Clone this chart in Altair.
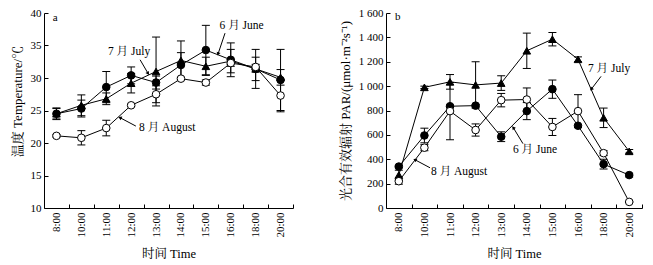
import math
import altair as alt
import pandas as pd

# ---------------- data ----------------
times = ["8:00", "10:00", "11:00", "12:00", "13:00", "14:00", "15:00", "16:00", "18:00", "20:00"]
months = ["June", "July", "August"]

temp_june = [24.5, 25.3, 28.6, 30.4, 29.3, 32.0, 34.3, 32.8, 31.4, 29.7]
temp_june_sd = [0.9, 1.3, 2.4, 1.3, 1.0, 1.9, 3.8, 2.6, 3.0, 4.7]
temp_july = [24.5, 25.8, 26.8, 29.2, 31.0, 32.7, 31.8, 32.6, 31.4, 30.1]
temp_july_sd = [0.8, 1.6, 0.9, 1.5, 5.3, 3.0, 1.4, 1.8, 1.8, 1.2]
temp_aug = [21.1, 20.8, 22.3, 25.8, 27.5, 29.9, 29.3, 32.3, 31.7, 27.3]
temp_aug_sd = [0.2, 1.1, 1.2, 0.2, 1.3, 0.2, 0.4, 0.5, 0.4, 2.5]

par_june = [340, 595, 835, 840, 585, 795, 975, 675, 360, 270]
par_june_sd = [10, 60, 10, 10, 40, 70, 75, 10, 40, 15]
par_july = [270, 990, 1035, 1010, 1025, 1290, 1385, 1220, 740, 465]
par_july_sd = [40, 10, 60, 190, 60, 145, 55, 20, 80, 15]
par_aug = [220, 495, 795, 640, 885, 890, 665, 795, 450, 50]
par_aug_sd = [25, 25, 235, 50, 55, 95, 70, 135, 20, 5]

# annotations (data units: x index, y value)
ann_a_text = ["6 月 June", "7 月 July", "8 月 August"]
ann_a_tx = [6.55, 2.07, 3.32]
ann_a_ty = [38.0, 34.0, 22.3]
ann_a_x0 = [6.77, 3.36, 3.19]
ann_a_y0 = [36.9, 32.8, 22.6]
ann_a_x1 = [6.49, 3.68, 2.55]
ann_a_y1 = [33.7, 30.7, 23.9]
ann_a_ang = [198, 148, 294]

ann_b_text = ["7 月 July", "6 月 June", "8 月 August"]
ann_b_tx = [7.39, 4.46, 1.26]
ann_b_ty = [1138, 478, 297]
ann_b_x0 = [7.90, 4.85, 1.22]
ann_b_y0 = [1080, 528, 330]
ann_b_x1 = [7.52, 4.47, 0.63]
ann_b_y1 = [975, 660, 396]
ann_b_ang = [220, 322, 298]

SERIF = "Liberation Serif, Noto Serif CJK SC, Noto Sans CJK SC"


def long_df(series):
    rows = []
    for name, (vals, sds) in series.items():
        for i, (v, s) in enumerate(zip(vals, sds)):
            rows.append(dict(idx=i, month=name, v=v, lo=v - s, hi=v + s))
    return pd.DataFrame(rows)


def ann_df(text, tx, ty, x0, y0, x1, y1, ang):
    return pd.DataFrame(dict(label=text, tx=tx, ty=ty, ax=x0, ay=y0, bx=x1, by=y1, ang=ang))


label_expr = "[" + ",".join("'%s'" % t for t in times) + "][datum.value]"


def panel(df, ann, ydom, yvals, ytitle, w, h, letter, letter_y, ylabel_expr=None, ytitle_y=None):
    band = w / 10.0
    xscale = alt.Scale(domain=[-0.5, 9.5], nice=False, zero=False)
    yscale = alt.Scale(domain=ydom, nice=False, zero=False)
    xaxis = alt.Axis(values=list(range(10)), tickCount=40, labelExpr=label_expr,
                     tickOffset=band / 2, labelOffset=-band / 2,
                     labelAngle=270, labelAlign="right", labelBaseline="middle",
                     labelOverlap=False, labelFlush=False,
                     title="时间 Time", titleFontSize=12.5, grid=False, tickSize={"expr": "-4"},
                     labelPadding=8, titlePadding=10)
    yargs = dict(values=yvals, tickCount=40, title=ytitle, grid=False, tickSize={"expr": "-4"},
                 labelOverlap=False, labelFlush=False,
                 labelPadding=7, titlePadding=6)
    if ylabel_expr:
        yargs["labelExpr"] = ylabel_expr
    if ytitle_y is not None:
        yargs["titleY"] = ytitle_y
    yaxis = alt.Axis(**yargs)
    x = alt.X("idx:Q", scale=xscale, axis=xaxis)
    y = alt.Y("v:Q", scale=yscale, axis=yaxis)
    base = alt.Chart(df)
    lines = base.mark_line(color="black", strokeWidth=1).encode(x=x, y=y, detail="month:N")
    bars = base.mark_rule(color="black", strokeWidth=1).encode(x="idx:Q", y="lo:Q", y2="hi:Q")
    cap_hi = base.mark_rule(color="black", strokeWidth=1, xOffset=-4, x2Offset=4).encode(
        x="idx:Q", x2="idx:Q", y="hi:Q")
    cap_lo = base.mark_rule(color="black", strokeWidth=1, xOffset=-4, x2Offset=4).encode(
        x="idx:Q", x2="idx:Q", y="lo:Q")
    pts = base.mark_point(filled=True, size=58, stroke="black", strokeWidth=1, opacity=1).encode(
        x="idx:Q", y="v:Q",
        shape=alt.Shape("month:N", scale=alt.Scale(domain=months, range=["circle", "triangle-up", "circle"]), legend=None),
        fill=alt.Fill("month:N", scale=alt.Scale(domain=months, range=["black", "black", "white"]), legend=None),
    )
    a = alt.Chart(ann)
    txt = a.mark_text(align="left", baseline="middle", font=SERIF, fontSize=11.5, color="black").encode(
        x="tx:Q", y="ty:Q", text="label:N")
    arr = a.mark_rule(color="black", strokeWidth=1).encode(x="ax:Q", x2="bx:Q", y="ay:Q", y2="by:Q")
    head = a.mark_point(shape="triangle-up", filled=True, size=16, color="black", opacity=1).encode(
        x="bx:Q", y="by:Q", angle=alt.Angle("ang:Q", scale=None))
    let = alt.Chart(pd.DataFrame(dict(t=[letter], lx=[-0.15], ly=[letter_y]))).mark_text(
        align="left", baseline="middle", font=SERIF, fontSize=11, color="black").encode(
        x="lx:Q", y="ly:Q", text="t:N")
    return alt.layer(lines, bars, cap_hi, cap_lo, pts, arr, head, txt, let).properties(width=w, height=h)


dfa = long_df({"June": (temp_june, temp_june_sd), "July": (temp_july, temp_july_sd), "August": (temp_aug, temp_aug_sd)})
dfb = long_df({"June": (par_june, par_june_sd), "July": (par_july, par_july_sd), "August": (par_aug, par_aug_sd)})

pa = panel(dfa, ann_df(ann_a_text, ann_a_tx, ann_a_ty, ann_a_x0, ann_a_y0, ann_a_x1, ann_a_y1, ann_a_ang),
           [10, 40], list(range(10, 41, 5)), "温度 Temperature/℃", 249, 195, "a", 39.3, ytitle_y=88)
pb = panel(dfb, ann_df(ann_b_text, ann_b_tx, ann_b_ty, ann_b_x0, ann_b_y0, ann_b_x1, ann_b_y1, ann_b_ang),
           [0, 1600], list(range(0, 1601, 200)), "光合有效辐射 PAR/(μmol·m⁻²s⁻¹)", 256, 195, "b", 1570,
           ylabel_expr="datum.value >= 1000 ? replace(format(datum.value, ','), ',', ' ') : format(datum.value, 'd')")

chart = alt.hconcat(pa, pb, spacing=45).properties(
    padding={"left": 11, "top": 7, "right": 0, "bottom": 0},
).configure_view(stroke=None).configure_axis(
    domainColor="black", tickColor="black", labelColor="black", titleColor="black",
    labelFont=SERIF, titleFont=SERIF, labelFontSize=11, titleFontSize=13,
    titleFontWeight="normal", domainWidth=1, tickWidth=1,
)

chart.save("out.html", embed_options={"renderer": "svg", "actions": False})
